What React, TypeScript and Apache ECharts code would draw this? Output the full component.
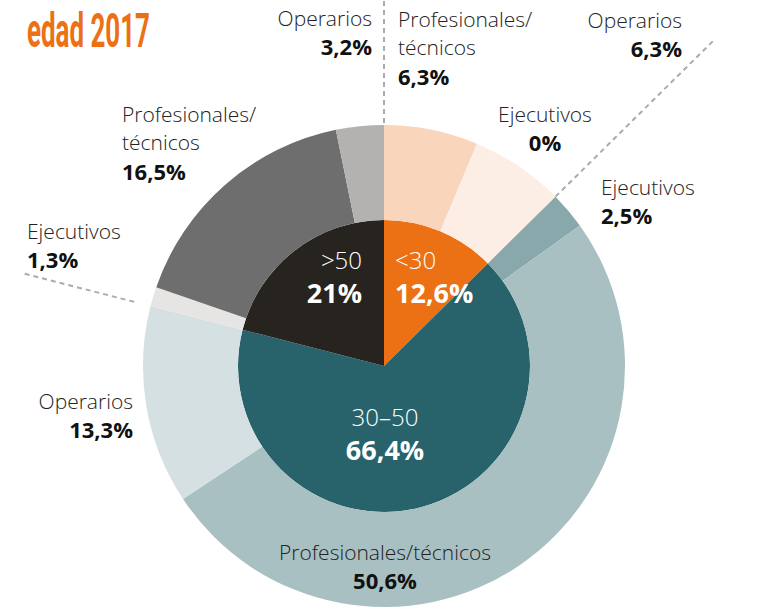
import React, { useEffect, useRef } from 'react';
import * as echarts from 'echarts';

// ---- data ----
const groupNames = ['<30', '30–50', '>50'];
const groupValues = [12.6, 66.4, 21];
const groupColors = ['#EC7014', '#28636B', '#27231F'];

const roleLabels = [
  'Profesionales/\ntécnicos', 'Operarios', 'Ejecutivos',
  'Ejecutivos', 'Profesionales/técnicos', 'Operarios',
  'Ejecutivos', 'Profesionales/\ntécnicos', 'Operarios',
];
const roleValues = [6.3, 6.3, 0, 2.5, 50.6, 13.3, 1.3, 16.5, 3.2];
const roleColors = [
  '#F9D5BB', '#FDEEE5', '#FDEEE5',
  '#88A8AC', '#A8C0C2', '#D4E0E2',
  '#E6E5E3', '#6E6E6E', '#B3B2B1',
];

const titleText = 'edad 2017';

// ---- layout ----
const CX = 384;
const CY = 366;
const R_IN = 146;
const R_OUT = 241;

const innerLabelPos: [number, number, string][] = [
  [395, 276, 'left'],
  [385, 433, 'center'],
  [362, 276, 'right'],
];
const outerLabelPos: [number, number, string][] = [
  [398, 47, 'left'],
  [682, 34, 'right'],
  [545, 128, 'center'],
  [601, 201, 'left'],
  [385, 566, 'center'],
  [133, 415, 'right'],
  [27, 245, 'left'],
  [122, 142, 'left'],
  [372, 32, 'right'],
];
const dividerRadii: [number, number][] = [
  [R_OUT + 2, 372],
  [R_OUT, 464],
  [258, 374],
];

const fmt = (v: number) => String(v).replace('.', ',') + '%';
const FONT = '"Open Sans", "Noto Sans", sans-serif';

function pt(r: number, deg: number): [number, number] {
  const a = (deg * Math.PI) / 180;
  return [CX + r * Math.sin(a), CY - r * Math.cos(a)];
}

export default function App() {
  const ref = useRef<HTMLDivElement>(null);
  useEffect(() => {
    if (!ref.current) return;
    const chart = echarts.init(ref.current, null, { renderer: 'svg' });
    const total = groupValues.reduce((a, b) => a + b, 0);
    const bounds: number[] = [];
    let acc = 0;
    groupValues.forEach((v) => {
      bounds.push((acc / total) * 360);
      acc += v;
    });
    const lines = bounds.map((deg, i) => {
      const [x1, y1] = pt(dividerRadii[i][0], deg);
      const [x2, y2] = pt(dividerRadii[i][1], deg);
      return {
        type: 'line',
        silent: true,
        z: 10,
        shape: { x1, y1, x2, y2 },
        style: { stroke: '#ABABAB', lineWidth: 2, lineDash: [5, 4] },
      };
    });

    chart.setOption({
      animation: false,
      graphic: [
        ...lines,
        {
          type: 'text',
          x: 27,
          y: 6,
          scaleX: 0.54,
          originX: 0,
          style: {
            text: titleText,
            font: 'bold 48px Roboto',
            fill: '#EC7014',
            textVerticalAlign: 'top',
          },
        },
      ],
      series: [
        {
          type: 'pie',
          center: [CX, CY],
          radius: [0, R_IN],
          startAngle: 90,
          clockwise: true,
          silent: true,
          avoidLabelOverlap: false,
          data: groupNames.map((n, i) => ({
            name: n,
            value: groupValues[i],
            itemStyle: { color: groupColors[i] },
          })),
          labelLine: { show: false },
          label: {
            show: true,
            position: 'inside',
            formatter: (p: any) => `{n|${p.name}}\n{v|${fmt(p.value)}}`,
            rich: {
              n: { fontFamily: FONT, fontWeight: 300, fontSize: 24, color: '#fff', lineHeight: 33 },
              v: { fontFamily: FONT, fontWeight: 'bold', fontSize: 27, color: '#fff', lineHeight: 33 },
            },
          },
          labelLayout: (p: any) => {
            const q = innerLabelPos[p.dataIndex];
            return { x: q[0], y: q[1], align: q[2], verticalAlign: 'middle' };
          },
        },
        {
          type: 'pie',
          center: [CX, CY],
          radius: [R_IN, R_OUT],
          startAngle: 90,
          clockwise: true,
          silent: true,
          avoidLabelOverlap: false,
          minShowLabelAngle: 0,
          data: roleLabels.map((n, i) => ({
            name: n,
            value: roleValues[i],
            itemStyle: { color: roleColors[i] },
          })),
          labelLine: { show: false },
          label: {
            show: true,
            position: 'inside',
            formatter: (p: any) => `{n|${p.name}}\n{v|${fmt(p.value)}}`,
            rich: {
              n: { fontFamily: FONT, fontWeight: 300, fontSize: 21, color: '#222', lineHeight: 28.5 },
              v: { fontFamily: FONT, fontWeight: 'bold', fontSize: 22, color: '#111', lineHeight: 28.5 },
            },
          },
          labelLayout: (p: any) => {
            const q = outerLabelPos[p.dataIndex];
            return { x: q[0], y: q[1], align: q[2], verticalAlign: 'middle' };
          },
        },
      ],
    });
    return () => chart.dispose();
  }, []);
  return (
    <div
      ref={ref}
      style={{ position: 'absolute', left: 0, top: 0, width: 765, height: 612 }}
    />
  );
}
